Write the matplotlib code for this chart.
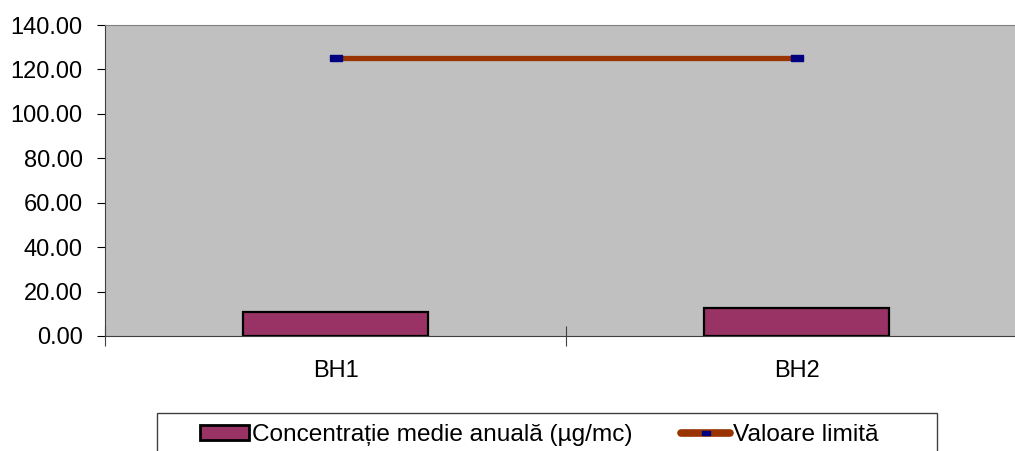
import matplotlib
matplotlib.use("Agg")
import matplotlib.pyplot as plt
import numpy as np
from matplotlib.patches import Rectangle

plt.rcParams['font.family'] = ['Liberation Sans', 'DejaVu Sans']

# annual mean concentration per station and the limit value
stations = ['BH1', 'BH2']
conc_medie = [10.8, 12.6]
valoare_limita = [125.0, 125.0]
yticks = [0, 20, 40, 60, 80, 100, 120, 140]

fig = plt.figure(figsize=(10.15, 4.51), dpi=100)
ax = fig.add_axes([105 / 1015, (451 - 336) / 451, 922 / 1015, 311 / 451])
ax.set_facecolor('#c0c0c0')

x = np.arange(len(stations))
bars = ax.bar(x, conc_medie, width=0.4, color='#993366', edgecolor='black', linewidth=1.6,
              label='Concentrație medie anuală (µg/mc)', zorder=3)

rect = [(-1, -0.5), (1, -0.5), (1, 0.5), (-1, 0.5), (-1, -0.5)]
line, = ax.plot(x, valoare_limita, color='#993300', linewidth=3.8, solid_capstyle='round',
                marker=rect, markersize=9, markerfacecolor='#000080', markeredgecolor='#000080',
                label='Valoare limită', zorder=4)

ax.set_xlim(-0.5, 1.5)
ax.set_ylim(0, 140)
ax.set_yticks(yticks)
ax.set_yticklabels([f'{v:.2f}' for v in yticks])
ax.set_xticks([-0.5, 0.5, 1.5])
ax.set_xticklabels(['', '', ''])
ax.set_xticks(x, minor=True)
ax.set_xticklabels(stations, minor=True)
ax.tick_params(axis='x', which='minor', length=0, pad=17, labelsize=17)
ax.tick_params(axis='x', which='major', direction='inout', length=14, width=0.8, color='#404040')
ax.tick_params(axis='y', direction='out', length=6, width=0.8, labelsize=17, pad=10)

for s in ['top', 'right']:
    ax.spines[s].set_color('#808080')
ax.spines['left'].set_color('#404040')
ax.spines['bottom'].set_color('#404040')

# legend frame, running off the bottom edge
fig.patches.append(Rectangle((157 / 1015, -0.05), 780 / 1015, 0.05 + (451 - 413) / 451,
                             transform=fig.transFigure, facecolor='white',
                             edgecolor='#404040', linewidth=1.0, zorder=0))
leg = fig.legend([bars, line], [bars.get_label(), line.get_label()],
                 loc='upper left', bbox_to_anchor=(200 / 1015, (451 - 424) / 451), ncol=2,
                 frameon=False, fontsize=17.6,
                 handlelength=2.0, handleheight=0.6, handletextpad=0.12, columnspacing=2.0,
                 borderpad=0, borderaxespad=0)
leg.legend_handles[1].set_linewidth(5.5)
leg.legend_handles[1].set_markersize(6)
leg.legend_handles[0].set_linewidth(2)

fig.savefig('out.png', dpi=100)
